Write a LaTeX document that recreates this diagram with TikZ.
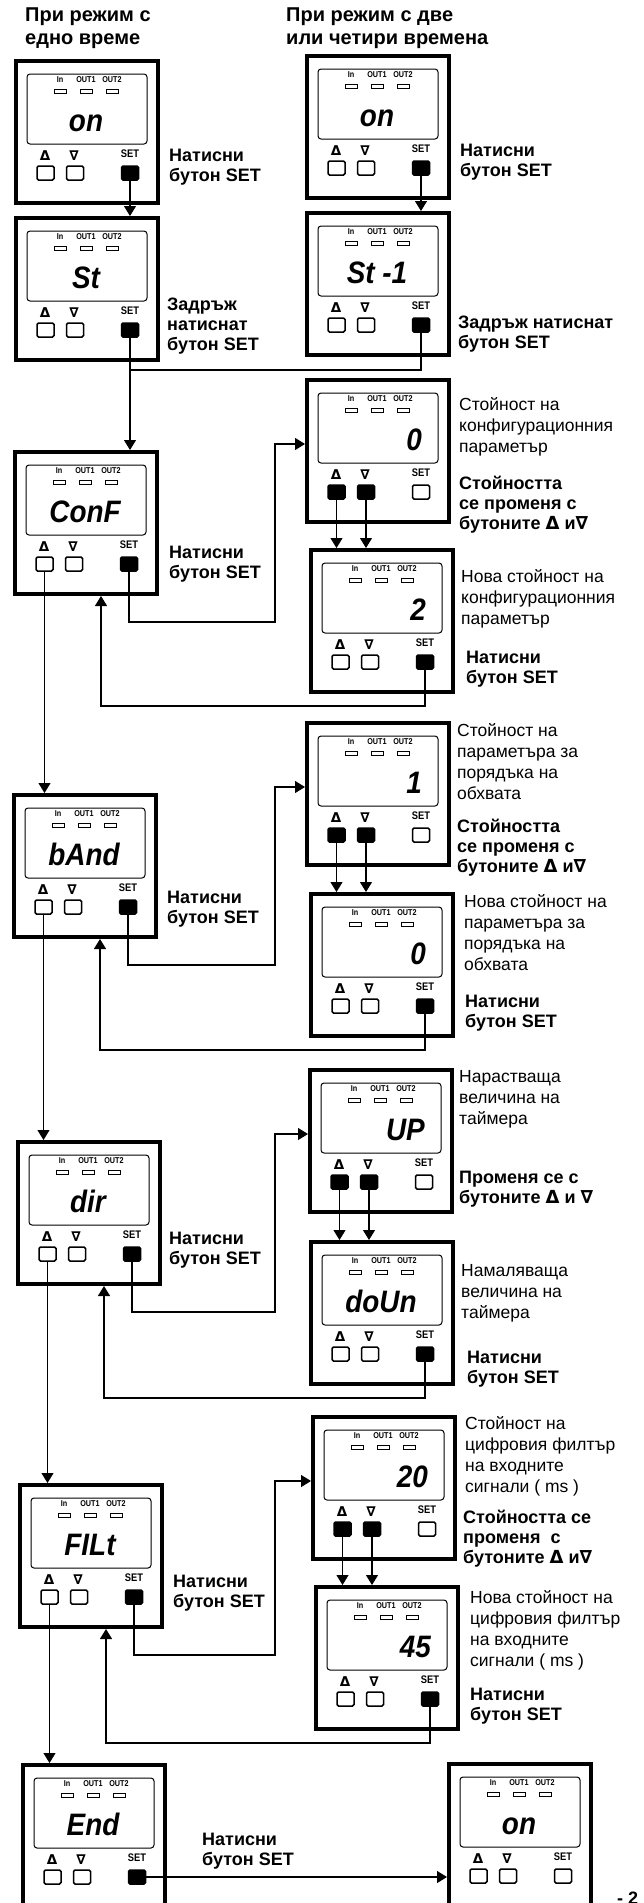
\documentclass[tikz,border=0pt]{standalone}
\usepackage{fontspec}
\setmainfont{Liberation Sans}
\newfontfamily\symf{DejaVu Sans}
\newfontfamily\lcdf[FakeStretch=0.9]{Liberation Sans}
\newfontfamily\ledf[FakeStretch=0.85]{Liberation Sans}
\usetikzlibrary{arrows.meta}
\usetikzlibrary{calc}

\newcommand\tup{{\symf Δ}}
\newcommand\tdn{{\symf ∇}}

\tikzset{
  devbox/.style={draw, line width=4pt, minimum width=142pt, minimum height=142pt, inner sep=0pt},
  lcdframe/.style={line width=1pt, rounded corners=3pt},
  ledtxt/.style={font=\ledf\bfseries\fontsize{8.5}{9}\selectfont, inner sep=0pt},
  led/.style={line width=1pt},
  lcd/.style={font=\lcdf\bfseries\itshape\fontsize{31}{31}\selectfont, inner sep=0pt},
  word/.style={anchor=base},
  num/.style={anchor=base east, xshift=45pt},
  keylbl/.style={font=\symf\bfseries\fontsize{13.5}{14}\selectfont, inner sep=0pt},
  setlbl/.style={font=\ledf\bfseries\fontsize{11}{11}\selectfont, inner sep=0pt},
  btn/.style={draw, line width=1.5pt, rounded corners=1.5pt, minimum width=17pt, minimum height=14pt, inner sep=0pt},
  btnon/.style={btn, fill=black},
  btnoff/.style={btn, fill=white},
  wire/.style={line width=1.1pt},
  flow/.style={wire, -{Triangle[length=10pt, width=12pt]}},
  hint/.style={font=\bfseries\fontsize{18}{20}\selectfont, align=left, anchor=north west, inner sep=0pt},
  note/.style={font=\fontsize{17.5}{21}\selectfont, align=left, anchor=north west, inner sep=0pt},
  headline/.style={font=\bfseries\fontsize{20}{23}\selectfont, align=left, anchor=north west, inner sep=0pt},
}

% 표시기 한 개: 이름, x, y, 화면 글자, 정렬, 화살표 버튼, SET 버튼
\newcommand\panel[7]{%
  \begin{scope}[shift={(#2,#3)}]
    \node[devbox] (#1) at (73,73) {};
    \draw[lcdframe] (13,15) rectangle (133,85);
    \node[ledtxt] at (46,21) {In};
    \node[ledtxt] at (72,21) {OUT1};
    \node[ledtxt] at (98,21) {OUT2};
    \foreach \lx in {46,72,98}
      \draw[led] (\lx-6,30) rectangle (\lx+6,34);
    \node[lcd,#5] at (72,72) {#4};
    \node[keylbl] at (31,97) {Δ};
    \node[keylbl] at (60,97) {∇};
    \node[setlbl] at (116,95) {SET};
    \node[#6] (#1-up) at (31.5,114) {};
    \node[#6] (#1-dn) at (61,114) {};
    \node[#7] (#1-set) at (116,114) {};
  \end{scope}}

\begin{document}
\begin{tikzpicture}[x=1pt, y=-1pt, line cap=round]
    \path[fill=white] (0,0) rectangle (644,1903);
    \useasboundingbox (0,0) rectangle (644,1903);
    \coordinate (bus) at (275,0);

    \node[headline] (tl) at (25,8) {При режим с\\едно време};
    \node[headline] (tr) at (286,8) {При режим с две\\или четири времена};

    % 왼쪽 열
    \panel{L1}{14}{59}{on}{word}{btnoff}{btnon}
    \panel{L2}{14}{216}{St}{word}{btnoff}{btnon}
    \panel{L3}{13}{450}{ConF}{word}{btnoff}{btnon}
    \panel{L4}{12}{793}{bAnd}{word}{btnoff}{btnon}
    \panel{L5}{16}{1140}{dir}{word}{btnoff}{btnon}
    \panel{L6}{18}{1483}{FILt}{word}{btnoff}{btnon}
    \panel{L7}{21}{1763}{End}{word}{btnoff}{btnon}
    % 오른쪽 열
    \panel{R1}{305}{54}{on}{word}{btnoff}{btnon}
    \panel{R2}{305}{211}{St -1}{word}{btnoff}{btnon}
    \panel{R3}{305}{378}{0}{num}{btnon}{btnoff}
    \panel{R4}{309}{548}{2}{num}{btnoff}{btnon}
    \panel{R5}{305}{721}{1}{num}{btnon}{btnoff}
    \panel{R6}{309}{892}{0}{num}{btnoff}{btnon}
    \panel{R7}{308}{1068}{UP}{num}{btnon}{btnoff}
    \panel{R8}{309}{1240}{doUn}{word}{btnoff}{btnon}
    \panel{R9}{311}{1415}{20}{num}{btnon}{btnoff}
    \panel{R10}{314}{1585}{45}{num}{btnoff}{btnon}
    \panel{F}{447}{1762}{on}{word}{btnoff}{btnoff}

    \node[hint] (hL1) at (169,149) {Натисни\\бутон SET};
    \node[hint] (hL2) at (167,298) {Задръж\\натиснат\\бутон SET};
    \node[hint] (hR1) at (460,144) {Натисни\\бутон SET};
    \node[hint] (hR2) at (458,316) {Задръж натиснат\\бутон SET};
    \node[hint] (hL3) at (169,546) {Натисни\\бутон SET};
    \node[note] (nR3) at (459,397) {Стойност на\\конфигурационния\\параметър};
    \node[hint] (hR3) at (459,476) {Стойността\\се променя с\\бутоните \tup{} и\tdn};
    \node[note] (nR4) at (461,569) {Нова стойност на\\конфигурационния\\параметър};
    \node[hint] (hR4) at (466,651) {Натисни\\бутон SET};
    \node[hint] (hL4) at (167,891) {Натисни\\бутон SET};
    \node[note] (nR5) at (457,723) {Стойност на\\параметъра за\\порядъка на\\обхвата};
    \node[hint] (hR5) at (457,819) {Стойността\\се променя с\\бутоните \tup{} и\tdn};
    \node[note] (nR6) at (464,894) {Нова стойност на\\параметъра за\\порядъка на\\обхвата};
    \node[hint] (hR6) at (465,995) {Натисни\\бутон SET};
    \node[hint] (hL5) at (169,1232) {Натисни\\бутон SET};
    \node[note] (nR7) at (459,1070) {Нарастваща\\величина на\\таймера};
    \node[hint] (hR7) at (459,1171) {Променя се с\\бутоните \tup{} и \tdn};
    \node[note] (nR8) at (461,1264) {Намаляваща\\величина на\\таймера};
    \node[hint] (hR8) at (467,1351) {Натисни\\бутон SET};
    \node[note] (nR9) at (465,1416) {Стойност на\\цифровия филтър\\на входните\\сигнали ( ms )};
    \node[hint] (hR9) at (463,1510) {Стойността се\\променя~ с\\бутоните \tup{} и\tdn};
    \node[note] (nR10) at (470,1590) {Нова стойност на\\цифровия филтър\\на входните\\сигнали ( ms )};
    \node[hint] (hR10) at (470,1688) {Натисни\\бутон SET};
    \node[hint] (hL6) at (173,1575) {Натисни\\бутон SET};
    \node[hint] (hL7) at (202,1833) {Натисни\\бутон SET};
    \node[font=\bfseries\fontsize{18}{20}\selectfont, anchor=base west, inner sep=0pt] (pg) at (617,1904) {- 2};

    % 시작 단계
    \draw[flow] (L1-set) -- (L1-set |- L2.north);
    \draw[flow] (R1-set) -- (R1-set |- R2.north);
    \draw[flow] (L2-set) -- (L2-set |- L3.north);
    \draw[wire] (R2-set) |- ([yshift=-13pt]L2-set |- R2.south);

    % 매개변수 단계
    \foreach \a/\b/\c/\d in {L3/R3/R4/L4, L4/R5/R6/L5, L5/R7/R8/L6, L6/R9/R10/L7} {
      \draw[flow] (\a-set) |- ([yshift=-26pt]\a.south -| bus) |- ([yshift=7pt]\b.west);
      \draw[flow] (\b-up) -- (\b-up |- \c.north);
      \draw[flow] (\b-dn) -- (\b-dn |- \c.north);
      \draw[flow] (\c-set) |- ([xshift=15pt, yshift=-12pt]\a.south |- \c.south) -- ([xshift=15pt]\a.south);
      \draw[flow] (\a-up) -- (\a-up |- \d.north);
    }

    \draw[flow] (L7-set) -- (L7-set -| F.west);
\end{tikzpicture}
\end{document}
